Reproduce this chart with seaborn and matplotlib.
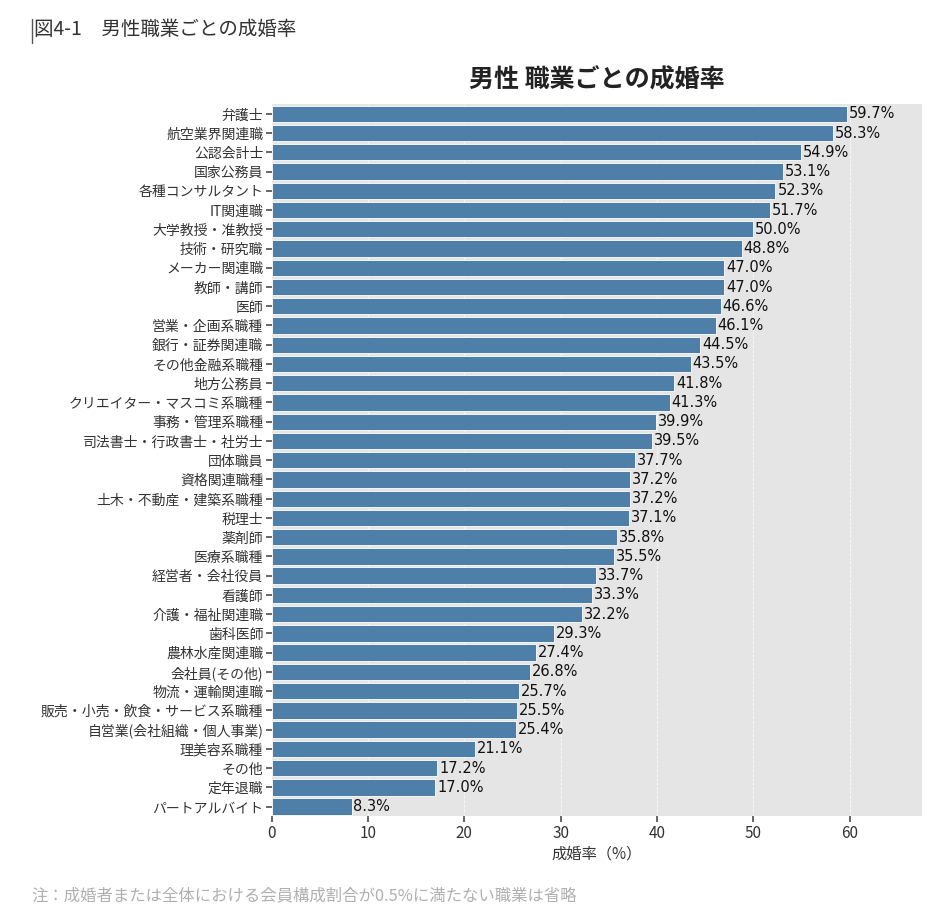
import matplotlib
matplotlib.use("Agg")
import matplotlib.pyplot as plt
import pandas as pd
import seaborn as sns

occupations = [
    "弁護士", "航空業界関連職", "公認会計士", "国家公務員", "各種コンサルタント",
    "IT関連職", "大学教授・准教授", "技術・研究職", "メーカー関連職", "教師・講師",
    "医師", "営業・企画系職種", "銀行・証券関連職", "その他金融系職種", "地方公務員",
    "クリエイター・マスコミ系職種", "事務・管理系職種", "司法書士・行政書士・社労士",
    "団体職員", "資格関連職種", "土木・不動産・建築系職種", "税理士", "薬剤師",
    "医療系職種", "経営者・会社役員", "看護師", "介護・福祉関連職", "歯科医師",
    "農林水産関連職", "会社員(その他)", "物流・運輸関連職",
    "販売・小売・飲食・サービス系職種", "自営業(会社組織・個人事業)", "理美容系職種",
    "その他", "定年退職", "パートアルバイト",
]
rates = [
    59.7, 58.3, 54.9, 53.1, 52.3, 51.7, 50.0, 48.8, 47.0, 47.0,
    46.6, 46.1, 44.5, 43.5, 41.8, 41.3, 39.9, 39.5, 37.7, 37.2,
    37.2, 37.1, 35.8, 35.5, 33.7, 33.3, 32.2, 29.3, 27.4, 26.8,
    25.7, 25.5, 25.4, 21.1, 17.2, 17.0, 8.3,
]
x_ticks = [0, 10, 20, 30, 40, 50, 60]

sns.set_theme(style="darkgrid")
plt.rcParams["font.family"] = ["Noto Sans CJK JP", "DejaVu Sans"]

df = pd.DataFrame({"職業": occupations, "成婚率": rates})

fig = plt.figure(figsize=(9.53, 9.14), dpi=100)
ax = fig.add_axes([0.285, 0.107, 0.682, 0.779])
ax.set_facecolor("#e5e5e5")

sns.barplot(data=df, x="成婚率", y="職業", color="#4e7fa8", saturation=1,
            width=0.85, edgecolor="white", linewidth=0.6, ax=ax)

for i, v in enumerate(rates):
    ax.text(v + 0.2, i, f"{v:.1f}%", va="center", ha="left", fontsize=10.5,
            color="#111111", family=["DejaVu Sans"])

ax.set_xlim(0, max(rates) * 1.13)
ax.set_xticks(x_ticks)
ax.grid(axis="x", color="white", linestyle="--", linewidth=0.6, alpha=0.8)
ax.grid(axis="y", visible=False)
for s in ax.spines.values():
    s.set_visible(False)
ax.tick_params(axis="both", which="both", length=4, color="#555555", labelsize=10,
               labelcolor="#333333", bottom=True, left=True, pad=2)
ax.tick_params(axis="x", labelsize=11)
ax.set_ylabel("")
ax.set_xlabel("成婚率（%）", fontsize=11, color="#333333", labelpad=3)
ax.set_title("男性 職業ごとの成婚率", fontsize=18, fontweight="bold", color="#222222", pad=12)

fig.text(0.036, 0.968, "図4-1　男性職業ごとの成婚率", fontsize=14, color="#333333", va="center")
fig.add_artist(plt.Line2D([0.034, 0.034], [0.953, 0.979], color="#555555", linewidth=1))
fig.text(0.033, 0.02, "注：成婚者または全体における会員構成割合が0.5%に満たない職業は省略",
         fontsize=11.8, color="#b0b0b0", va="center")

fig.savefig("out.png", dpi=100)
